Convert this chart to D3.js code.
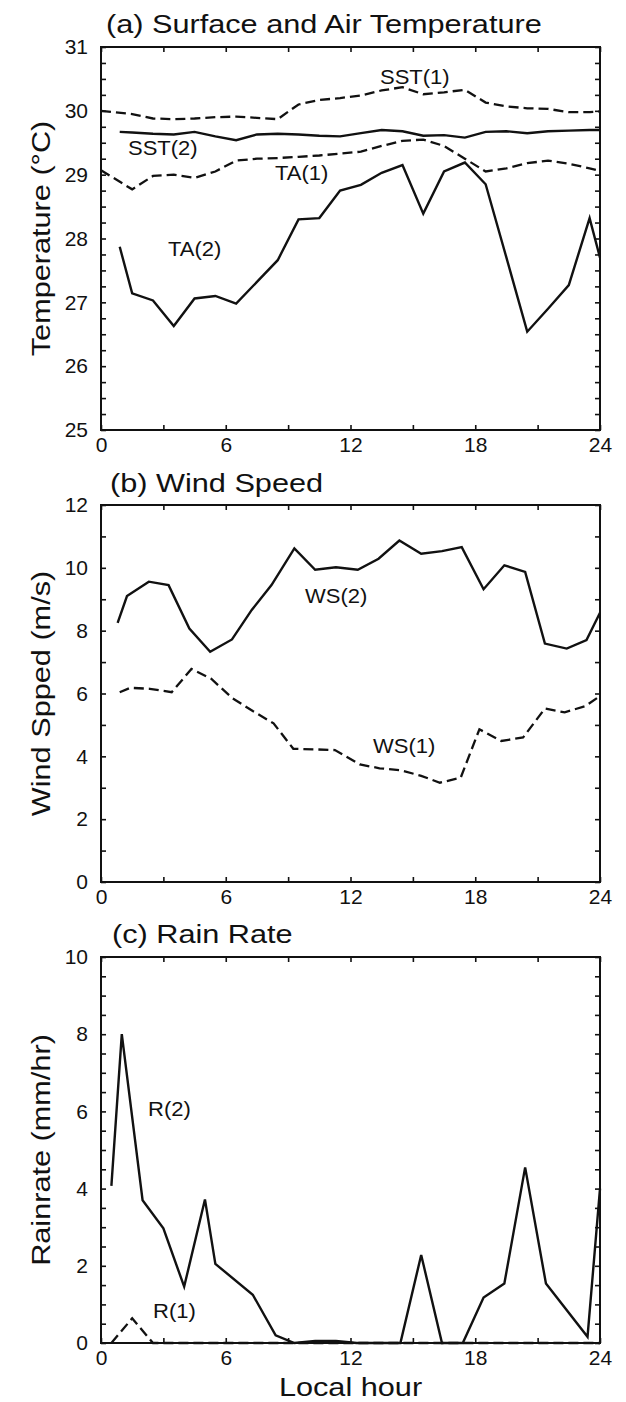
<!DOCTYPE html>
<html>
<head>
<meta charset="utf-8">
<script src="https://cdn.jsdelivr.net/npm/d3@7"></script>
<style>
  body { margin: 0; background: #fff; }
  text { font-family: "Liberation Sans", Arial, sans-serif; fill: #111; }
</style>
</head>
<body>
<div id="chart"></div>
<script>
// hours (local) where each series was sampled
let hoursSolidA = [0.9, 1.5, 2.5, 3.5, 4.5, 5.5, 6.5, 7.5, 8.5, 9.5, 10.5, 11.5, 12.5, 13.5, 14.5, 15.5, 16.5, 17.5, 18.5, 19.5, 20.5, 21.5, 22.5, 23.5, 24];
let hoursDashA = [0, 1.5, 2.5, 3.5, 4.5, 5.5, 6.5, 7.5, 8.5, 9.5, 10.5, 11.5, 12.5, 13.5, 14.5, 15.5, 16.5, 17.5, 18.5, 19.5, 20.5, 21.5, 22.5, 23.5, 24];

// (a) temperatures
let sst1 = [30.0, 29.95, 29.88, 29.87, 29.88, 29.9, 29.91, 29.89, 29.87, 30.1, 30.17, 30.2, 30.24, 30.32, 30.37, 30.26, 30.29, 30.33, 30.13, 30.07, 30.04, 30.03, 29.98, 29.98, 29.99];
let ta1 = [29.07, 28.77, 28.98, 29.0, 28.95, 29.05, 29.22, 29.25, 29.26, 29.28, 29.3, 29.33, 29.36, 29.45, 29.53, 29.55, 29.45, 29.25, 29.05, 29.1, 29.18, 29.22, 29.17, 29.1, 29.06];
let sst2 = [29.67, 29.66, 29.64, 29.63, 29.67, 29.6, 29.54, 29.63, 29.64, 29.63, 29.61, 29.6, 29.65, 29.7, 29.68, 29.61, 29.62, 29.58, 29.67, 29.68, 29.65, 29.68, 29.69, 29.7, 29.7];
let ta2 = [27.87, 27.14, 27.03, 26.63, 27.06, 27.1, 26.98, 27.32, 27.66, 28.3, 28.32, 28.75, 28.84, 29.03, 29.15, 28.39, 29.05, 29.19, 28.85, 27.7, 26.54, 26.9, 27.27, 28.32, 27.7];

// (b) wind speed
let hoursWs2 = [0.8, 1.25, 2.3, 3.25, 4.25, 5.25, 6.3, 7.25, 8.2, 9.3, 10.3, 11.3, 12.35, 13.35, 14.35, 15.4, 16.4, 17.35, 18.4, 19.4, 20.4, 21.35, 22.4, 23.35, 24];
let ws2 = [8.25, 9.1, 9.56, 9.45, 8.07, 7.33, 7.72, 8.66, 9.45, 10.62, 9.94, 10.02, 9.94, 10.29, 10.87, 10.45, 10.53, 10.66, 9.32, 10.08, 9.87, 7.59, 7.43, 7.7, 8.57];
let hoursWs1 = [0.9, 1.4, 2.35, 3.4, 4.35, 5.3, 6.3, 7.3, 8.3, 9.25, 10.3, 11.25, 12.45, 13.4, 14.4, 15.4, 16.3, 17.3, 18.2, 19.25, 20.3, 21.35, 22.3, 23.3, 24];
let ws1 = [6.04, 6.18, 6.15, 6.04, 6.78, 6.47, 5.86, 5.44, 5.05, 4.24, 4.22, 4.2, 3.74, 3.62, 3.56, 3.38, 3.16, 3.32, 4.86, 4.49, 4.6, 5.52, 5.4, 5.6, 5.92];

// (c) rain rate
let hoursR2 = [0.5, 1.0, 2.0, 3.0, 4.0, 5.0, 5.5, 7.3, 8.4, 9.3, 10.3, 11.3, 12.3, 13.3, 14.4, 15.4, 16.4, 17.4, 18.4, 19.4, 20.4, 21.4, 23.4, 24];
let r2 = [4.07, 8.0, 3.7, 2.97, 1.46, 3.72, 2.05, 1.25, 0.2, 0.0, 0.05, 0.05, 0.0, 0.0, 0.0, 2.28, 0.0, 0.0, 1.18, 1.54, 4.55, 1.54, 0.16, 4.0];
let hoursR1 = [0.5, 1.5, 2.5, 24];
let r1 = [0, 0.64, 0, 0];

// axis ticks
let hourTicks = [0, 6, 12, 18, 24];
let hourMinor = [3, 9, 15, 21];

let W = 626, H = 1402;
let plotLeft = 101, plotRight = 600;

let svg = d3.select('#chart').append('svg')
  .attr('width', W)
  .attr('height', H);
svg.append('rect').attr('width', W).attr('height', H).attr('fill', '#fff');

let x = d3.scaleLinear().domain([0, 24]).range([plotLeft, plotRight]);

// put a text with horizontal stretch (the source font is wide)
function stretchText(txt, px, py, size, sx, rot) {
  let tr = 'translate(' + px + ',' + py + ')' + (rot ? ' rotate(' + rot + ')' : '') + ' scale(' + sx + ',1)';
  return svg.append('text')
    .attr('transform', tr)
    .attr('font-size', size)
    .text(txt);
}

function drawPanel(p) {
  let y = d3.scaleLinear().domain(p.domain).range([p.bottom, p.top]);
  let g = svg.append('g');

  // inward ticks on all four sides
  let tickLen = 5;
  let sides = [
    [d3.axisBottom(x), p.bottom, 'x'],
    [d3.axisTop(x), p.top, 'x'],
    [d3.axisLeft(y), plotLeft, 'y'],
    [d3.axisRight(y), plotRight, 'y']
  ];
  sides.forEach(function (s) {
    let ax = s[0];
    let vals = s[2] === 'x' ? hourTicks.concat(hourMinor) : p.ticks;
    ax.tickValues(vals).tickSizeInner(-tickLen).tickSizeOuter(0).tickFormat('');
    let t = s[2] === 'x' ? 'translate(0,' + s[1] + ')' : 'translate(' + s[1] + ',0)';
    let a = g.append('g').attr('transform', t).call(ax);
    a.select('.domain').remove();
    a.selectAll('.tick line').attr('stroke', '#111').attr('stroke-width', 1.6);
  });

  // tick labels
  let bx = g.append('g').attr('transform', 'translate(0,' + p.bottom + ')')
    .call(d3.axisBottom(x).tickValues(hourTicks).tickSize(0).tickPadding(7).tickFormat(d3.format('d')));
  bx.select('.domain').remove();
  let ly = g.append('g').attr('transform', 'translate(' + plotLeft + ',0)')
    .call(d3.axisLeft(y).tickValues(p.labels).tickSize(0).tickPadding(13).tickFormat(d3.format('d')));
  ly.select('.domain').remove();
  g.selectAll('.tick text').attr('font-size', 21).attr('fill', '#111')
    .attr('font-family', '"Liberation Sans", Arial, sans-serif');

  // frame
  g.append('rect')
    .attr('x', plotLeft).attr('y', p.top)
    .attr('width', plotRight - plotLeft).attr('height', p.bottom - p.top)
    .attr('fill', 'none').attr('stroke', '#111').attr('stroke-width', 2);

  let line = d3.line()
    .x(function (d) { return x(d[0]); })
    .y(function (d) { return y(d[1]); });

  p.series.forEach(function (s) {
    let pts = d3.zip(s.hours, s.values);
    g.append('path')
      .datum(pts)
      .attr('d', line)
      .attr('fill', 'none')
      .attr('stroke', '#111')
      .attr('stroke-width', s.dashed ? 2.3 : 2.4)
      .attr('stroke-linejoin', 'miter')
      .attr('stroke-dasharray', s.dashed ? '10,5' : null);
    stretchText(s.name, s.lx, s.ly, 20, 1.1);
  });

  stretchText(p.title, p.titleX, p.titleY, 26, 1.18);
  stretchText(p.ytitle, 50, (p.top + p.bottom) / 2, 26, 1.18, -90).attr('text-anchor', 'middle');
}

drawPanel({
  top: 47, bottom: 430, domain: [25, 31],
  ticks: d3.range(25, 31.001, 0.25), labels: [25, 26, 27, 28, 29, 30, 31],
  title: '(a) Surface and Air Temperature', titleX: 106, titleY: 33,
  ytitle: 'Temperature (\u00B0C)',
  series: [
    { name: 'SST(1)', hours: hoursDashA, values: sst1, dashed: true, lx: 380, ly: 84 },
    { name: 'SST(2)', hours: hoursSolidA, values: sst2, dashed: false, lx: 128, ly: 155 },
    { name: 'TA(1)', hours: hoursDashA, values: ta1, dashed: true, lx: 275, ly: 180 },
    { name: 'TA(2)', hours: hoursSolidA, values: ta2, dashed: false, lx: 168, ly: 256 }
  ]
});

drawPanel({
  top: 505, bottom: 882, domain: [0, 12],
  ticks: d3.range(0, 12.001, 1), labels: [0, 2, 4, 6, 8, 10, 12],
  title: '(b) Wind Speed', titleX: 110, titleY: 492,
  ytitle: 'Wind Spped (m/s)',
  series: [
    { name: 'WS(2)', hours: hoursWs2, values: ws2, dashed: false, lx: 305, ly: 603 },
    { name: 'WS(1)', hours: hoursWs1, values: ws1, dashed: true, lx: 373, ly: 753 }
  ]
});

drawPanel({
  top: 957, bottom: 1343, domain: [0, 10],
  ticks: d3.range(0, 10.001, 0.5), labels: [0, 2, 4, 6, 8, 10],
  title: '(c) Rain Rate', titleX: 112, titleY: 943,
  ytitle: 'Rainrate (mm/hr)',
  series: [
    { name: 'R(2)', hours: hoursR2, values: r2, dashed: false, lx: 148, ly: 1116 },
    { name: 'R(1)', hours: hoursR1, values: r1, dashed: true, lx: 153, ly: 1318 }
  ]
});

stretchText('Local hour', (plotLeft + plotRight) / 2, 1396, 26, 1.18).attr('text-anchor', 'middle');
</script>
</body>
</html>
